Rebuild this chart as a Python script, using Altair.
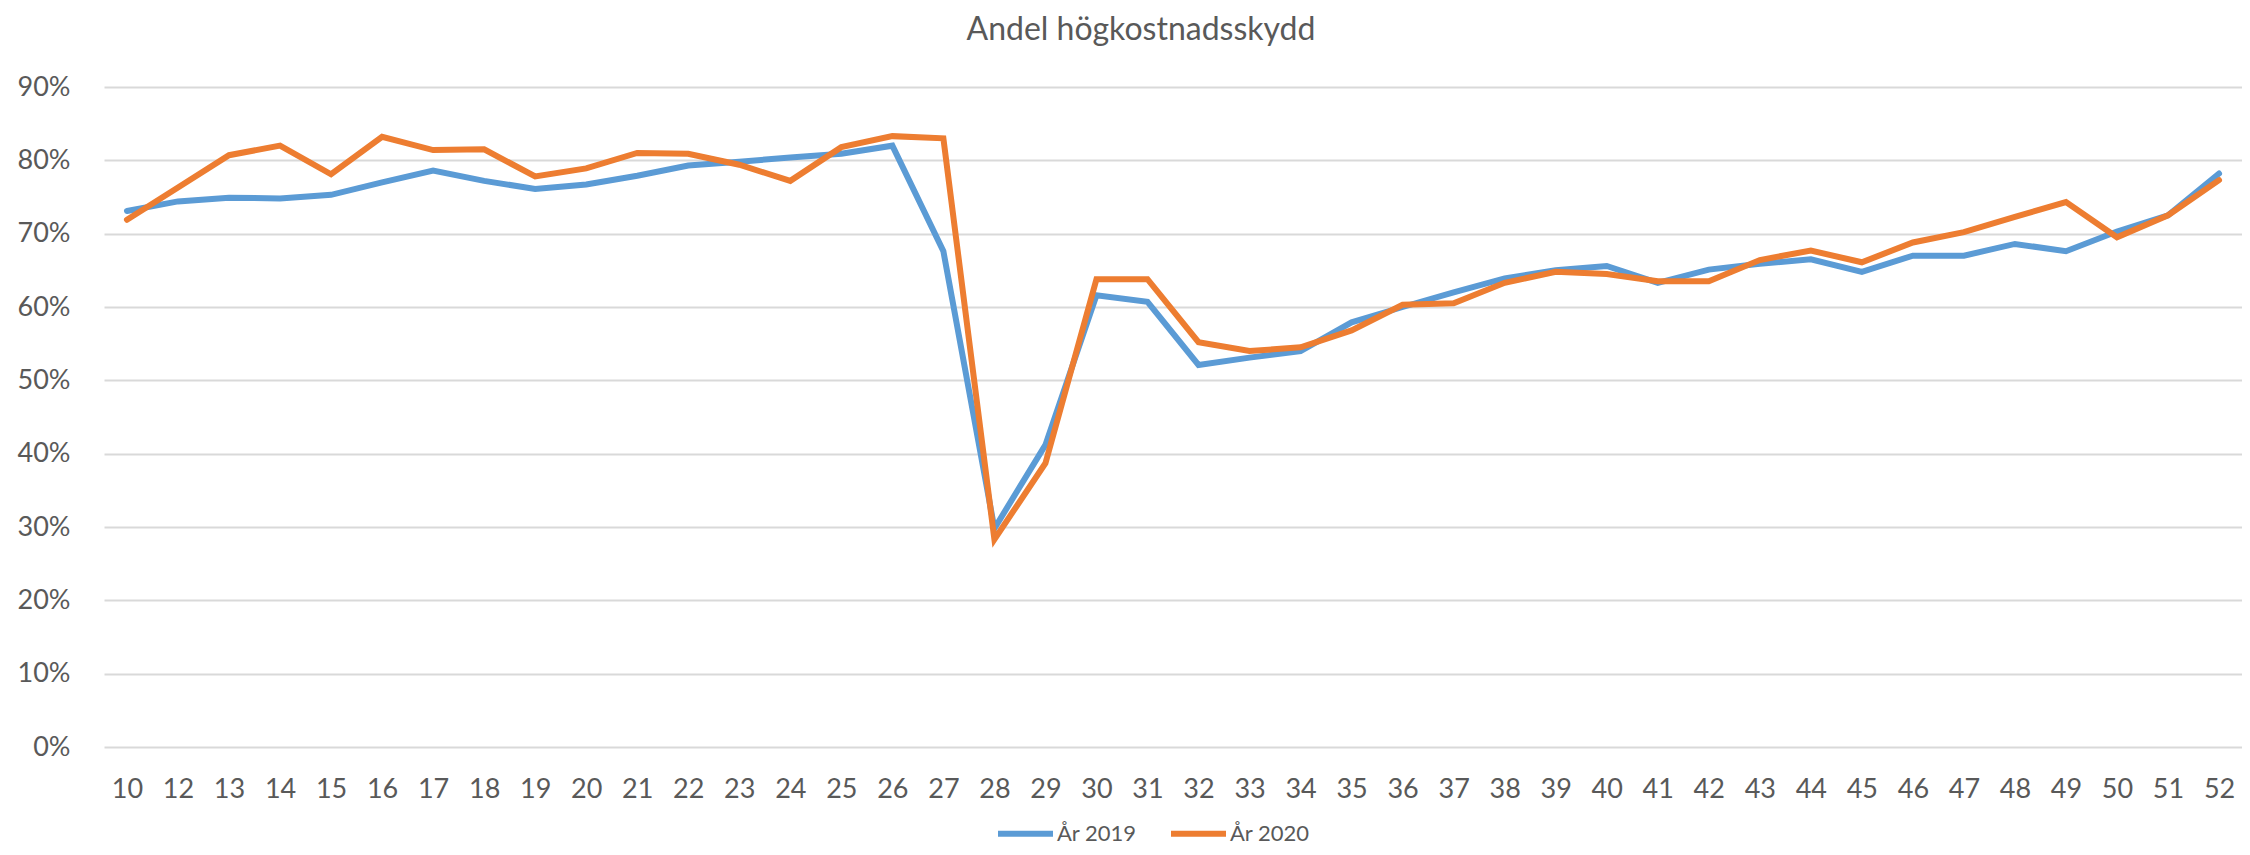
import altair as alt
import pandas as pd

# --- data ---
weeks = ["10", "12", "13", "14", "15", "16", "17", "18", "19", "20", "21",
         "22", "23", "24", "25", "26", "27", "28", "29", "30", "31", "32",
         "33", "34", "35", "36", "37", "38", "39", "40", "41", "42", "43",
         "44", "45", "46", "47", "48", "49", "50", "51", "52"]

ar_2019 = [73.1, 74.4, 74.9, 74.8, 75.3, 77.0, 78.6, 77.2, 76.1, 76.7, 77.9,
           79.3, 79.8, 80.4, 80.9, 82.0, 67.6, 29.8, 41.2, 61.6, 60.7, 52.1,
           53.1, 54.0, 57.9, 60.0, 62.0, 63.9, 65.0, 65.6, 63.3, 65.1, 65.9,
           66.5, 64.8, 67.0, 67.0, 68.6, 67.6, 70.3, 72.5, 78.2]

ar_2020 = [71.9, 76.3, 80.7, 82.0, 78.1, 83.2, 81.4, 81.5, 77.8, 78.9, 81.0,
           80.9, 79.4, 77.2, 81.8, 83.3, 83.0, 28.3, 38.7, 63.8, 63.8, 55.2,
           54.0, 54.5, 56.8, 60.3, 60.5, 63.3, 64.8, 64.5, 63.5, 63.5, 66.4,
           67.7, 66.1, 68.8, 70.2, 72.3, 74.3, 69.5, 72.5, 77.3]

series_names = ["År 2019", "År 2020"]
series_colors = ["#5B9BD5", "#ED7D31"]
y_ticks = [0, 10, 20, 30, 40, 50, 60, 70, 80, 90]
chart_title = "Andel högkostnadsskydd"

df = pd.DataFrame({
    "Vecka": weeks + weeks,
    "Andel": ar_2019 + ar_2020,
    "Serie": [series_names[0]] * len(weeks) + [series_names[1]] * len(weeks),
})

FONT = "Lato"
TXT = "#595959"

chart = alt.Chart(df).mark_line(strokeWidth=6, strokeCap="round").encode(
    x=alt.X(
        "Vecka:O",
        sort=weeks,
        scale=alt.Scale(padding=0.45),
        axis=alt.Axis(title=None, labelAngle=0, labelOverlap=False, ticks=False,
                      domain=False, grid=False, labelPadding=29,
                      labelFontSize=27, labelColor=TXT, labelFont=FONT),
    ),
    y=alt.Y(
        "Andel:Q",
        scale=alt.Scale(domain=[0, 90], nice=False, zero=True),
        axis=alt.Axis(title=None, values=y_ticks, labelExpr="datum.value + '%'",
                      ticks=False, domain=False, gridColor="#D9D9D9", gridWidth=2,
                      labelPadding=34, labelFontSize=27, labelColor=TXT,
                      labelFont=FONT),
    ),
    color=alt.Color(
        "Serie:N",
        scale=alt.Scale(domain=series_names, range=series_colors),
        legend=alt.Legend(title=None, orient="none", legendX=891, legendY=716,
                          direction="horizontal", symbolType="stroke",
                          symbolSize=3025, symbolStrokeWidth=6,
                          labelFontSize=22, labelFont=FONT, labelColor=TXT,
                          labelOffset=1, columnPadding=22, padding=0,
                          labelAlign="left"),
    ),
).properties(
    width=2138,
    height=660,
    title=alt.TitleParams(chart_title, fontSize=32, font=FONT,
                          fontWeight="normal", color=TXT, anchor="middle",
                          dx=-32, offset=1, baseline="alphabetic"),
    padding={"left": 96, "top": 79, "right": 0, "bottom": 100},
    autosize=alt.AutoSizeParams(type="none"),
).configure_view(stroke=None)

chart.save("out.html", embed_options={"renderer": "svg", "actions": False})
